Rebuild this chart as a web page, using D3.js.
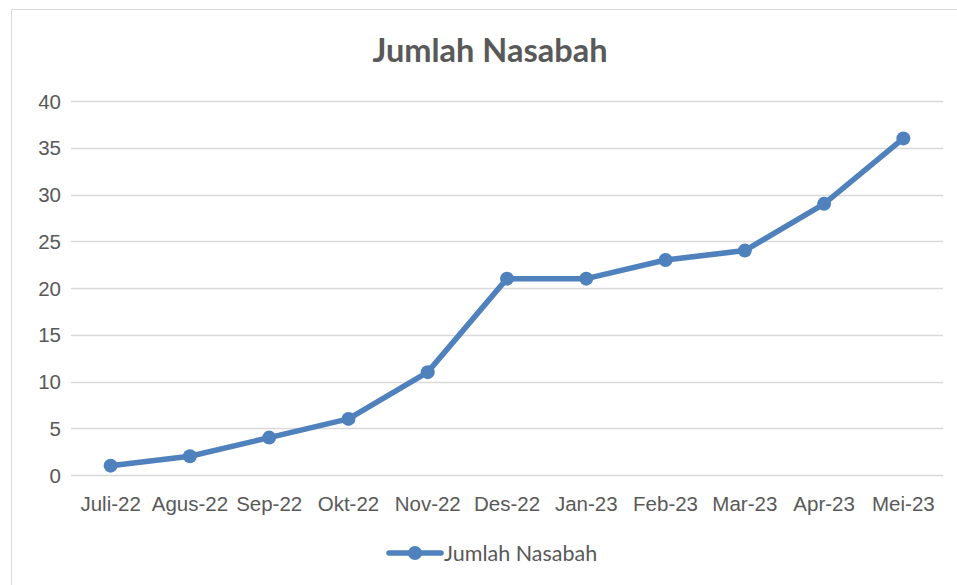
<!DOCTYPE html>
<html>
<head>
<meta charset="utf-8">
<script src="https://cdn.jsdelivr.net/npm/d3@7"></script>
<style>
	body { margin: 0; background: #fff; }
	svg { display: block; font-family: Lato, "Open Sans", sans-serif; }
	.tick text { fill: #595959; font-size: 20.5px; }
</style>
</head>
<body>
<svg id="chart"></svg>
<script>
/*=================
=== The data
=================*/
var months = ['Juli-22', 'Agus-22', 'Sep-22', 'Okt-22', 'Nov-22', 'Des-22', 'Jan-23', 'Feb-23', 'Mar-23', 'Apr-23', 'Mei-23'];
var nasabah = [1, 2, 4, 6, 11, 21, 21, 23, 24, 29, 36];
var yTicks = [0, 5, 10, 15, 20, 25, 30, 35, 40];
var seriesName = 'Jumlah Nasabah';

/*=================
=== The vars
=================*/
var width = 957, height = 585;
var plot = { left: 71, right: 943, top: 101, bottom: 475 };
var blue = '#4f81bd';

var svg = d3.select('#chart')
	.attr('width', width)
	.attr('height', height);

// chart frame (right/bottom run off the picture)
svg.append('rect')
	.attr('x', 11.5).attr('y', 9.5)
	.attr('width', 960).attr('height', 590)
	.attr('fill', '#fff')
	.attr('stroke', '#d9d9d9');

var x = d3.scaleBand().domain(months).range([plot.left, plot.right]);
var y = d3.scaleLinear().domain([0, 40]).range([plot.bottom, plot.top]);

// gridlines
svg.append('g')
	.selectAll('line')
	.data(yTicks)
	.enter().append('line')
	.attr('x1', plot.left).attr('x2', plot.right)
	.attr('y1', function (d) { return Math.round(y(d)) + 0.5; })
	.attr('y2', function (d) { return Math.round(y(d)) + 0.5; })
	.attr('stroke', '#d9d9d9')
	.attr('stroke-width', 1.3);

// y axis
var yAxis = svg.append('g')
	.attr('transform', 'translate(' + (plot.left - 10) + ',0)')
	.call(d3.axisLeft(y).tickValues(yTicks).tickSize(0).tickPadding(0));
yAxis.select('.domain').remove();
yAxis.selectAll('text').attr('dy', '0.35em');

// x axis
var xAxis = svg.append('g')
	.attr('transform', 'translate(0,' + (plot.bottom + 20) + ')')
	.call(d3.axisBottom(x).tickSize(0).tickPadding(0));
xAxis.select('.domain').remove();
xAxis.selectAll('text').attr('dy', '0.8em');

// title
svg.append('text')
	.attr('x', 490).attr('y', 62)
	.attr('text-anchor', 'middle')
	.attr('fill', '#595959')
	.attr('font-size', 32.5)
	.attr('font-weight', 'bold')
	.text(seriesName);

// the line
var myLine = d3.line()
	.x(function (d, i) { return x(months[i]) + x.bandwidth() / 2; })
	.y(function (d) { return y(d); });

svg.append('path')
	.datum(nasabah)
	.attr('fill', 'none')
	.attr('stroke', blue)
	.attr('stroke-width', 5.5)
	.attr('stroke-linejoin', 'round')
	.attr('stroke-linecap', 'round')
	.attr('d', myLine);

svg.append('g')
	.selectAll('circle')
	.data(nasabah)
	.enter().append('circle')
	.attr('cx', function (d, i) { return x(months[i]) + x.bandwidth() / 2; })
	.attr('cy', function (d) { return y(d); })
	.attr('r', 7)
	.attr('fill', blue);

// legend
var legend = svg.append('g').attr('transform', 'translate(389,553)');
legend.append('line')
	.attr('x1', 0).attr('x2', 52)
	.attr('stroke', blue).attr('stroke-width', 5.5)
	.attr('stroke-linecap', 'round');
legend.append('circle').attr('cx', 26).attr('r', 7).attr('fill', blue);
legend.append('text')
	.attr('x', 55).attr('dy', '0.35em')
	.attr('fill', '#595959')
	.attr('font-size', 21.5)
	.text(seriesName);
</script>
</body>
</html>
